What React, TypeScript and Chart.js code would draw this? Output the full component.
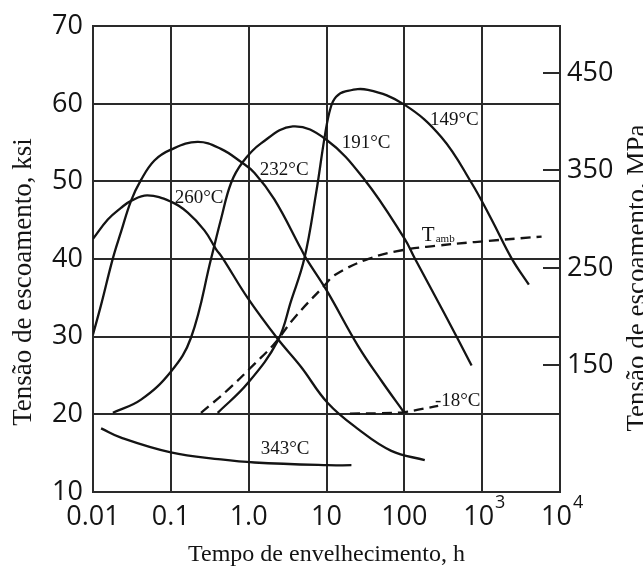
import { useEffect, useRef } from "react";
import { Chart, registerables } from "chart.js";

Chart.register(...registerables);

// ---- axis ticks ----
const xTickValues = [0.01, 0.1, 1, 10, 100, 1000, 10000];
const xTickLabels = ["0.01", "0.1", "1.0", "10", "100", "10", "10"];
const xTickExponents = ["", "", "", "", "", "3", "4"];
const yTickValues = [10, 20, 30, 40, 50, 60, 70];
const mpaTickValues = [150, 250, 350, 450];

// ---- series (aging time h, yield strength ksi) ----
const t260 = [0.01, 0.0155, 0.0229, 0.0308, 0.05, 0.1, 0.165, 0.27, 0.38, 0.465, 0.97, 2.37, 4.72, 10.3, 25.5, 68, 183];
const v260 = [42.6, 45.1, 46.6, 47.5, 48.2, 47.4, 46.0, 43.7, 41.3, 40.1, 35.0, 29.7, 26.1, 21.5, 18.1, 15.3, 14.1];

const t232 = [0.01, 0.0127, 0.018, 0.0229, 0.0308, 0.0414, 0.0615, 0.1, 0.22, 0.44, 0.8, 1.19, 2.14, 4.72, 5.47, 10, 25.5, 51, 100];
const v232 = [30.3, 34.1, 40.1, 43.5, 47.5, 50.2, 52.7, 54.1, 55.1, 54.2, 52.5, 51.1, 47.7, 41.3, 40.1, 36.0, 28.8, 24.3, 20.2];

const t191 = [0.018, 0.0414, 0.1, 0.182, 0.33, 0.44, 0.594, 0.84, 1.44, 3.69, 9.88, 31, 101, 136, 331, 731];
const v191 = [20.2, 21.9, 25.5, 29.9, 40.1, 45.1, 49.8, 52.5, 54.9, 57.1, 55.4, 50.2, 42.6, 40.1, 32.9, 26.3];

const t149 = [0.4, 0.97, 2.37, 3.5, 5.2, 7.35, 9.6, 11.3, 13.3, 17.5, 34, 100, 300, 731, 1320, 2388, 3981];
const v149 = [20.2, 24.0, 29.5, 34.6, 40.1, 48.5, 56.1, 59.5, 60.9, 61.6, 61.8, 59.9, 55.7, 49.8, 45.1, 40.1, 36.7];

const tAmb = [0.244, 0.539, 1.19, 2.14, 3.88, 9.42, 12.8, 34, 100, 250, 806, 5800];
const vAmb = [20.2, 23.15, 26.5, 29.1, 32.45, 36.6, 37.95, 40.0, 41.2, 41.7, 42.2, 42.9];

const tMinus18 = [20, 50, 100, 272];
const vMinus18 = [20.1, 20.15, 20.3, 21.1];

const t343 = [0.0127, 0.0229, 0.1, 0.44, 1.19, 10.3, 20.9];
const v343 = [18.2, 17.0, 15.1, 14.2, 13.8, 13.45, 13.45];

// ---- curve labels (anchored in data units) ----
const curveLabels = ["260°C", "232°C", "191°C", "149°C", "-18°C", "343°C"];
const labelTimes = [0.112, 1.39, 15.7, 213, 247, 1.43];
const labelValues = [47.2, 50.85, 54.27, 57.3, 21.04, 14.95];
const ambLabelTime = 168;
const ambLabelValue = 42.35;

const INK = "#141414";
const GRID = "#2a2a2a";
const SANS = '"Open Sans", "Noto Sans", sans-serif';
const SERIF = '"Liberation Serif", "Times New Roman", serif';

const pts = (t: number[], v: number[]) => t.map((x, i) => ({ x, y: v[i] }));

const overlayPlugin = {
  id: "overlay",
  afterDatasetsDraw(chart: any) {
    const { ctx, chartArea } = chart;
    const x = chart.scales.x;
    const y = chart.scales.y;
    const y2 = chart.scales.y2;
    ctx.save();
    // inward tick marks of the MPa axis
    ctx.strokeStyle = GRID;
    ctx.lineWidth = 2;
    y2.ticks.forEach((tk: any) => {
      const py = Math.round(y2.getPixelForValue(tk.value));
      ctx.beginPath();
      ctx.moveTo(chartArea.right - 17, py);
      ctx.lineTo(chartArea.right, py);
      ctx.stroke();
    });
    // curve labels
    ctx.fillStyle = INK;
    ctx.textAlign = "left";
    ctx.textBaseline = "alphabetic";
    ctx.font = `19px ${SERIF}`;
    curveLabels.forEach((l, i) => {
      ctx.fillText(l, x.getPixelForValue(labelTimes[i]), y.getPixelForValue(labelValues[i]));
    });
    const ax = x.getPixelForValue(ambLabelTime);
    const ay = y.getPixelForValue(ambLabelValue);
    ctx.font = `21px ${SERIF}`;
    ctx.fillText("T", ax, ay);
    const tw = ctx.measureText("T").width;
    ctx.font = `11px ${SERIF}`;
    ctx.fillText("amb", ax + tw + 1, ay + 1);
    ctx.restore();
  },
  afterDraw(chart: any) {
    const { ctx, chartArea } = chart;
    const x = chart.scales.x;
    ctx.save();
    ctx.fillStyle = INK;
    // exponents on x tick labels
    ctx.font = `27px ${SANS}`;
    const wFull = ctx.measureText("10 ").width;
    const w10 = ctx.measureText("10").width;
    ctx.textAlign = "left";
    ctx.textBaseline = "alphabetic";
    xTickValues.forEach((v, i) => {
      const e = xTickExponents[i];
      if (!e) return;
      const px = x.getPixelForValue(v);
      const left = px - wFull / 2 + w10 + 1;
      ctx.font = `18px ${SANS}`;
      ctx.fillText(e, left, chartArea.bottom + 16);
    });
    // vertical axis titles (both read bottom to top)
    ctx.font = `27px ${SERIF}`;
    ctx.textAlign = "center";
    ctx.textBaseline = "alphabetic";
    ctx.translate(31, 282);
    ctx.rotate(-Math.PI / 2);
    ctx.fillText("Tensão de escoamento, ksi", 0, 0);
    ctx.setTransform(1, 0, 0, 1, 0, 0);
    ctx.translate(645, 278);
    ctx.rotate(-Math.PI / 2);
    ctx.fillText("Tensão de escoamento, MPa", 0, 0);
    ctx.restore();
  },
};

export default function App() {
  const ref = useRef<HTMLCanvasElement | null>(null);

  useEffect(() => {
    document.body.style.margin = "0";
    const canvas = ref.current;
    if (!canvas) return;
    const line = (data: any[], dashed = false) => ({
      data,
      borderColor: INK,
      borderWidth: 2.3,
      pointRadius: 0,
      fill: false,
      tension: 0.4,
      borderDash: dashed ? [10, 6] : [],
      yAxisID: "y",
    });
    const chart = new Chart(canvas, {
      type: "line",
      data: {
        datasets: [
          line(pts(t260, v260)),
          line(pts(t232, v232)),
          line(pts(t191, v191)),
          line(pts(t149, v149)),
          line(pts(tAmb, vAmb), true),
          line(pts(tMinus18, vMinus18), true),
          line(pts(t343, v343)),
        ],
      },
      plugins: [overlayPlugin],
      options: {
        animation: false,
        responsive: false,
        devicePixelRatio: 1,
        layout: { padding: { top: 19, left: 0, right: 0, bottom: 0 } },
        plugins: { legend: { display: false }, tooltip: { enabled: false } },
        scales: {
          x: {
            type: "logarithmic",
            position: "bottom",
            min: 0.01,
            max: 10000,
            afterBuildTicks: (s: any) => {
              s.ticks = xTickValues.map((v) => ({ value: v }));
            },
            afterFit: (s: any) => {
              s.height = 77;
            },
            ticks: {
              autoSkip: false,
              maxRotation: 0,
              padding: 9,
              color: INK,
              font: { family: SANS, size: 27 },
              callback: (v: any) => {
                const i = xTickValues.indexOf(Number(v));
                if (i < 0) return "";
                return xTickExponents[i] ? xTickLabels[i] + " " : xTickLabels[i];
              },
            },
            grid: { color: GRID, lineWidth: 2, drawTicks: false },
            border: { color: GRID, width: 2 },
            title: {
              display: true,
              text: "Tempo de envelhecimento, h",
              color: INK,
              font: { family: SERIF, size: 24 },
              padding: { top: 0, bottom: 0 },
            },
          },
          y: {
            type: "linear",
            position: "left",
            min: 10,
            max: 70,
            afterBuildTicks: (s: any) => {
              s.ticks = yTickValues.map((v) => ({ value: v }));
            },
            afterFit: (s: any) => {
              s.width = 93;
            },
            ticks: { padding: 10, color: INK, font: { family: SANS, size: 27 } },
            grid: { color: GRID, lineWidth: 2, drawTicks: false },
            border: { color: GRID, width: 2 },
          },
          y2: {
            type: "linear",
            position: "right",
            min: 20,
            max: 498,
            afterBuildTicks: (s: any) => {
              s.ticks = mpaTickValues.map((v) => ({ value: v }));
            },
            afterFit: (s: any) => {
              s.width = 83;
            },
            ticks: { padding: 7, color: INK, font: { family: SANS, size: 27 } },
            grid: { display: false, drawTicks: false, drawOnChartArea: false },
            border: { display: true, color: GRID, width: 2 },
          },
        },
      },
    });
    return () => chart.destroy();
  }, []);

  return (
    <div style={{ width: 643, height: 569 }}>
      <canvas ref={ref} width={643} height={569} />
    </div>
  );
}
